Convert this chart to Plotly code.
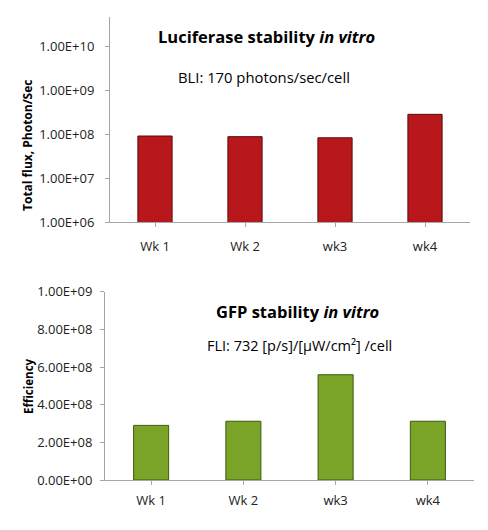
import plotly.graph_objects as go

# datos
semanas = ['Wk 1', 'Wk 2', 'wk3', 'wk4']
luciferasa = [9.0e7, 8.7e7, 8.2e7, 2.8e8]
gfp = [2.9e8, 3.12e8, 5.59e8, 3.12e8]

ticks_log = [1e6, 1e7, 1e8, 1e9, 1e10]
texto_log = ['1.00E+06', '1.00E+07', '1.00E+08', '1.00E+09', '1.00E+10']
ticks_lin = [0, 2e8, 4e8, 6e8, 8e8, 1e9]
texto_lin = ['0.00E+00', '2.00E+08', '4.00E+08', '6.00E+08', '8.00E+08', '1.00E+09']

fuente = 'Open Sans'
gris = '#a6a6a6'
W, H = 488, 530
OFF = 8  # margen del body del navegador


def px(x):
    return (x - OFF) / W


def py(y):
    return 1 - (y - OFF) / H


fig = go.Figure()
fig.add_trace(go.Bar(x=semanas, y=luciferasa, xaxis='x', yaxis='y', width=0.38,
                     marker=dict(color='#b8181b', line=dict(color='#5a0a0a', width=1))))
fig.add_trace(go.Bar(x=semanas, y=gfp, xaxis='x2', yaxis='y2', width=0.38,
                     marker=dict(color='#79a428', line=dict(color='#3f5a10', width=1))))

eje_x = dict(showline=True, linecolor=gris, linewidth=1, ticks='outside', ticklen=4,
             tickcolor=gris, showgrid=False, automargin=False,
             tickfont=dict(family=fuente, size=13, color='#222'))
eje_y = dict(showline=True, linecolor=gris, linewidth=1, ticks='outside', ticklen=4,
             tickcolor=gris, showgrid=False, zeroline=False, automargin=False,
             tickfont=dict(family=fuente, size=13, color='#222'))

fig.update_layout(
    width=W, height=H, showlegend=False,
    margin=dict(l=0, r=0, t=0, b=0),
    paper_bgcolor='white', plot_bgcolor='white',
    xaxis=dict(eje_x, domain=[px(110), px(470)], anchor='y', ticklabelstandoff=8),
    yaxis=dict(eje_y, domain=[py(222), py(17)], anchor='x', type='log', range=[6, 10.66],
               tickvals=ticks_log, ticktext=texto_log, ticklabelstandoff=8),
    xaxis2=dict(eje_x, domain=[px(105), px(474)], anchor='y2', ticklabelstandoff=4),
    yaxis2=dict(eje_y, domain=[py(480), py(291.7)], anchor='x2', range=[0, 1e9],
                tickvals=ticks_lin, ticktext=texto_lin, ticklabelstandoff=5),
)

anotaciones = [
    dict(text='<b>Luciferase stability <i>in vitro</i></b>', x=266, y=37, size=16.5, ang=0),
    dict(text='BLI: 170 photons/sec/cell', x=264, y=77, size=14.8, ang=0),
    dict(text='<b>GFP stability <i>in vitro</i></b>', x=297, y=311, size=16.5, ang=0),
    dict(text='FLI: 732 [p/s]/[µW/cm²] /cell', x=299, y=345, size=14.5, ang=0),
    dict(text='<b>Total flux, Photon/Sec</b>', x=28, y=146, size=12, ang=-90),
    dict(text='<b>Efficiency</b>', x=28, y=386, size=11.5, ang=-90),
]
for a in anotaciones:
    fig.add_annotation(text=a['text'], x=px(a['x']), y=py(a['y']),
                       xref='paper', yref='paper', showarrow=False,
                       xanchor='center', yanchor='middle', textangle=a['ang'],
                       font=dict(family=fuente, size=a['size'], color='black'))

fig.write_html("out.html")
